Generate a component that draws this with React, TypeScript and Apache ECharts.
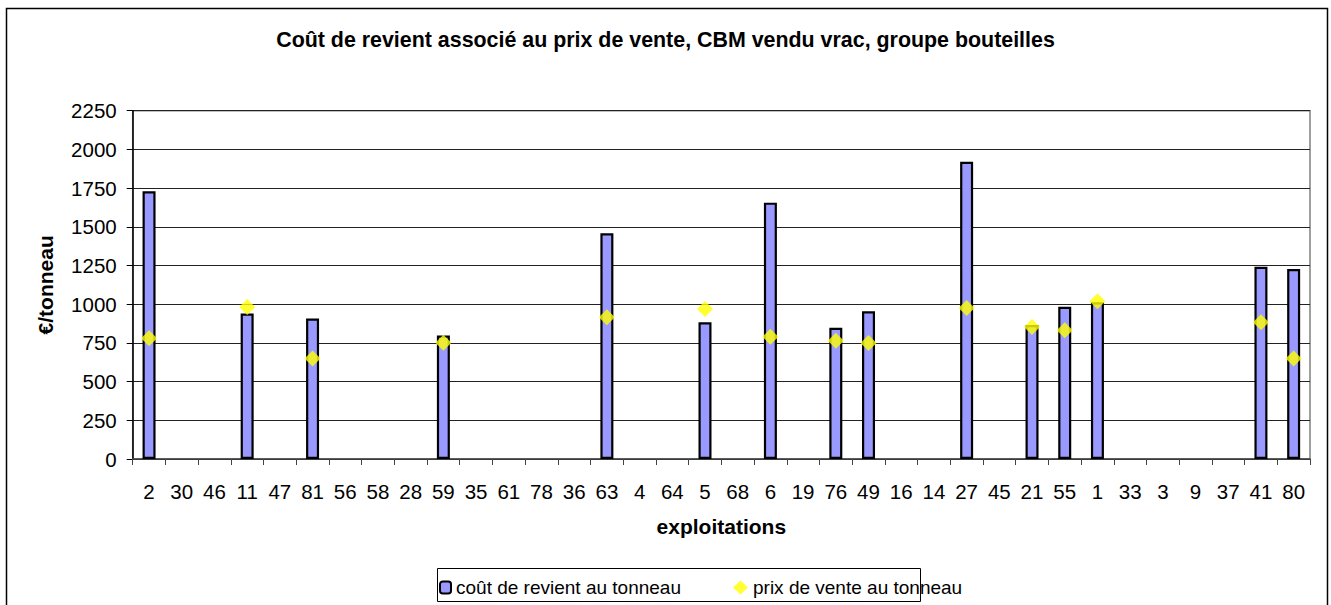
import React, { useEffect, useRef } from "react";
import * as echarts from "echarts";

const categories = ["2","30","46","11","47","81","56","58","28","59","35","61","78","36","63","4","64","5","68","6","19","76","49","16","14","27","45","21","55","1","33","3","9","37","41","80"];
const coutRevient = [1730,null,null,940,null,908,null,null,null,797,null,null,null,null,1458,null,null,883,null,1656,null,848,954,null,null,1920,null,866,984,1012,null,null,null,null,1242,1227];
const prixVente = [780,null,null,982,null,650,null,null,null,751,null,null,null,null,915,null,null,969,null,790,null,764,749,null,null,975,null,853,831,1019,null,null,null,null,883,650];
const yTicks = { min: 0, max: 2250, interval: 250 };

const TITLE = "Coût de revient associé au prix de vente, CBM vendu vrac, groupe bouteilles";
const S1 = "coût de revient au tonneau";
const S2 = "prix de vente au tonneau";
const FONT = "'Liberation Sans', Arial, sans-serif";

export default function App() {
  const ref = useRef<HTMLDivElement>(null);
  useEffect(() => {
    if (!ref.current) return;
    const chart = echarts.init(ref.current, null, { renderer: "svg" });
    chart.setOption({
      animation: false,
      backgroundColor: "#fff",
      textStyle: { fontFamily: FONT, color: "#000" },
      title: {
        text: TITLE,
        left: "center",
        top: 29,
        padding: 0,
        textStyle: { fontFamily: FONT, fontSize: 21.4, fontWeight: "bold", color: "#000" },
      },
      graphic: [
        { type: "rect", shape: { x: 6.5, y: 8.5, width: 1321, height: 640 }, style: { fill: "none", stroke: "#000", lineWidth: 1.5 }, silent: true },
        { type: "rect", shape: { x: 437.5, y: 568.5, width: 483, height: 33 }, style: { fill: "#fff", stroke: "#000", lineWidth: 1 }, silent: true, z: -1 },
      ],
      legend: [
        {
          left: 439, top: 578, padding: 0, itemGap: 0, itemWidth: 11, itemHeight: 12,
          data: [S1], textStyle: { fontFamily: FONT, fontSize: 19, color: "#000" },
          selectedMode: false,
        },
        {
          left: 733, top: 578, padding: 0, itemGap: 0, itemWidth: 15, itemHeight: 14,
          data: [S2], textStyle: { fontFamily: FONT, fontSize: 19, color: "#000" },
          selectedMode: false,
        },
      ],
      grid: { left: 132.7, right: 21, top: 110.7, bottom: 146, show: true, borderColor: "#808080", borderWidth: 1.5, outerBoundsMode: "none" },
      xAxis: {
        type: "category",
        data: categories,
        name: "exploitations",
        nameLocation: "middle",
        nameGap: 57,
        nameTextStyle: { fontFamily: FONT, fontSize: 21, fontWeight: "bold", color: "#000" },
        axisLine: { lineStyle: { color: "#444", width: 1.5 } },
        axisTick: { show: true, length: 6, lineStyle: { color: "#444" } },
        axisLabel: { interval: 0, margin: 22, fontSize: 20.5, fontFamily: FONT, color: "#000" },
      },
      yAxis: {
        type: "value",
        min: yTicks.min,
        max: yTicks.max,
        interval: yTicks.interval,
        name: "€/tonneau",
        nameLocation: "middle",
        nameGap: 77,
        nameTextStyle: { fontFamily: FONT, fontSize: 21, fontWeight: "bold", color: "#000" },
        axisLine: { show: true, lineStyle: { color: "#000", width: 1.5 } },
        axisTick: { show: true, length: 6, lineStyle: { color: "#000" } },
        axisLabel: { margin: 16, fontSize: 20.5, fontFamily: FONT, color: "#000", formatter: (v: number) => String(v) },
        splitLine: { show: true, lineStyle: { color: "#222", width: 1 } },
      },
      series: [
        {
          name: S1,
          type: "bar",
          data: coutRevient,
          barWidth: 13,
          itemStyle: { color: "#9999FF", borderColor: "#000", borderWidth: 2.2 },
        },
        {
          name: S2,
          type: "scatter",
          data: prixVente,
          symbol: "diamond",
          symbolSize: 16,
          itemStyle: { color: "#FFFF00" },
          z: 5,
        },
      ],
    });
    return () => chart.dispose();
  }, []);
  return <div ref={ref} style={{ position: "absolute", left: 0, top: 0, width: 1331, height: 605, background: "#fff" }} />;
}
